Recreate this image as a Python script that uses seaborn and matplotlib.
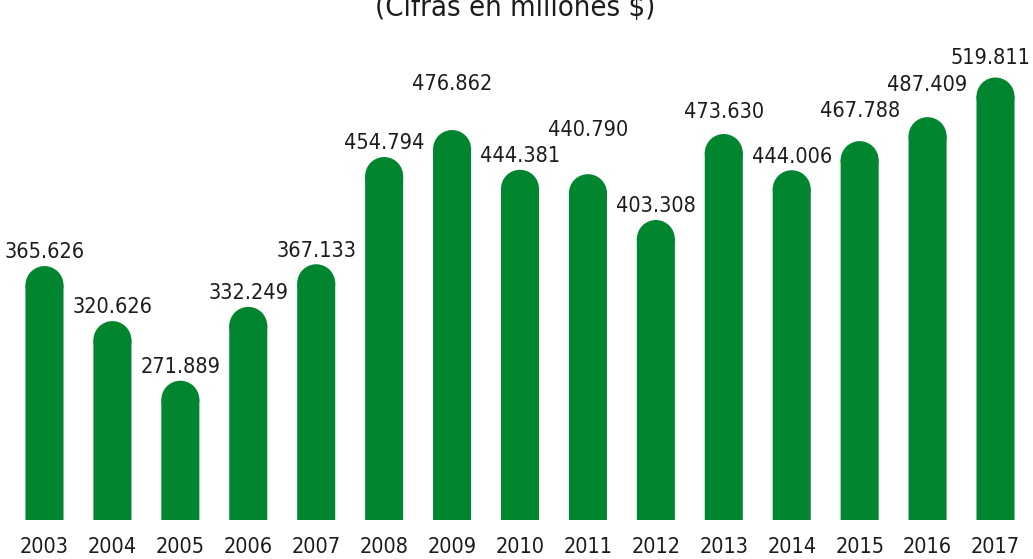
import matplotlib
matplotlib.use("Agg")
import matplotlib.pyplot as plt
import seaborn as sns
from matplotlib.patches import Ellipse

# ---- data (millions $) ----
years = ["2003", "2004", "2005", "2006", "2007", "2008", "2009", "2010",
         "2011", "2012", "2013", "2014", "2015", "2016", "2017"]
values = [365626, 320626, 271889, 332249, 367133, 454794, 476862, 444381,
          440790, 403308, 473630, 444006, 467788, 487409, 519811]
title = "(Cifras en millones $)"

# ---- layout: extra shift of some value labels (points), as in the reference ----
label_lift = [0, 0, 0, 0, 0, 0, 23, 0, 22, 0, 6, 0, 12, 13, 4]
label_nudge = [0, 0, 0, 0, 0, 0, 0, 0, 0, 0, 0, 0, 0, 0, -4]

GREEN = "#01852f"
TEXT = "#1c1c1c"

plt.rcParams['font.family'] = ['DejaVu Sans']
plt.rcParams['font.stretch'] = 'condensed'
FS = 15.5

W, H = 1033, 559
fig = plt.figure(figsize=(W / 100, H / 100), dpi=100)
ax_bottom_px = 39
ax = fig.add_axes([0, ax_bottom_px / H, 1, (H - ax_bottom_px) / H])

sns.barplot(x=years, y=values, color=GREEN, width=0.56, saturation=1, ax=ax)

ax.set_xlim(-0.655, 14.552)
ax.set_ylim(158000, 583200)

# rounded tops: shorten each bar by its cap radius and add a circular cap
ax_w_px = W
ax_h_px = H - ax_bottom_px
x0, x1 = ax.get_xlim()
y0, y1 = ax.get_ylim()
aspect = ((y1 - y0) / ax_h_px) / ((x1 - x0) / ax_w_px)
for p in list(ax.patches):
    x, y, w, h = p.get_x(), p.get_y(), p.get_width(), p.get_height()
    ry = (w / 2) * aspect
    p.set_height(h - ry * 0.98)
    p.set_edgecolor("none")
    p.set_linewidth(0)
    p.set_snap(False)
    cap = Ellipse((x + w / 2, y + h - ry), w, 2 * ry, fc=GREEN, ec="none",
                  lw=0)
    ax.add_patch(cap)

for i, v in enumerate(values):
    ax.annotate(f"{v:,}".replace(",", "."), xy=(i, v),
                xytext=(label_nudge[i], 5.5 + label_lift[i]),
                textcoords="offset points", ha="center", va="baseline",
                fontsize=FS, color=TEXT, fontstretch="condensed")

ax.set_yticks([])
ax.set_xlabel("")
ax.set_ylabel("")
ax.tick_params(axis="x", length=0, pad=12, labelsize=FS, labelcolor=TEXT)
for s in ax.spines.values():
    s.set_visible(False)
ax.set_facecolor("white")

fig.text(0.499, 1 - 16 / H, title, ha="center", va="baseline",
         fontsize=21, color=TEXT, fontstretch="condensed")

fig.savefig("out.png", dpi=100, facecolor="white")
